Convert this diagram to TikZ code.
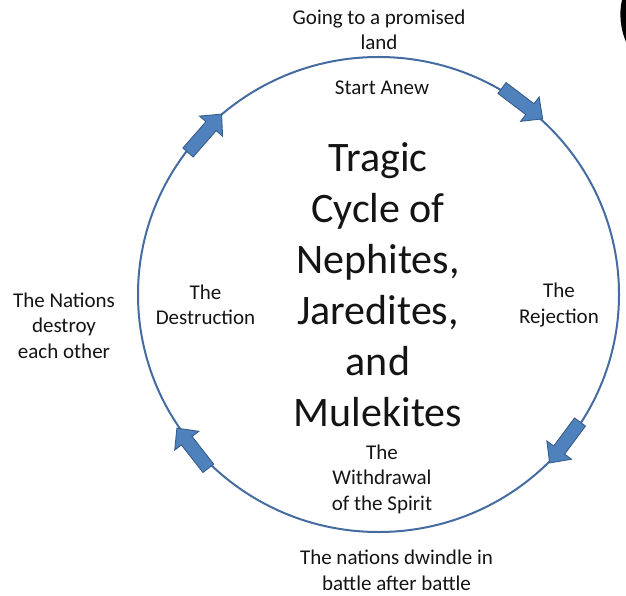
\documentclass[tikz,border=0pt]{standalone}
\usepackage{fontspec}
\setmainfont{Carlito}
\definecolor{ringblue}{RGB}{68,108,160}
\definecolor{arrowfill}{RGB}{79,129,189}
\definecolor{arrowline}{RGB}{56,93,138}
\definecolor{txt}{RGB}{20,20,20}
\tikzset{
  lbl/.style={inner sep=0pt, align=center, text=txt, font=\fontsize{21}{25.5}\selectfont},
  bigtitle/.style={inner sep=0pt, align=center, text=txt, font=\fontsize{42}{51}\selectfont},
  ring/.style={draw=ringblue, line width=2pt},
  blockarrow/.style={fill=arrowfill, draw=arrowline, line width=0.9pt, line join=miter}
}
\begin{document}
\begin{tikzpicture}[x=1pt,y=-1pt]
\useasboundingbox (0,0) rectangle (626,596);
% ring
\draw[ring] (378.5,294.5) ellipse [x radius=240.5, y radius=237.5];
% block arrows along the ring
\foreach \px/\py/\ang in {188/152.5/48.8, 502/88/-37.2, 580/422/-126.6, 208.3/468.3/128}{
  \draw[blockarrow, shift={(\px,\py)}, rotate=\ang]
    (0,-6.8) -- (35,-6.8) -- (35,-15.3) -- (51,0) -- (35,15.3) -- (35,6.8) -- (0,6.8) -- cycle;
}
% black fragment at top-right corner
\fill[black] (626,0) -- (622,0) .. controls (619,12) and (620,28) .. (626,42) -- cycle;
% texts
\node[lbl] (promised) at (379,30) {Going to a promised\\land};
\node[lbl] (anew) at (382,88) {Start Anew};
\node[bigtitle] (title) at (378,285) {Tragic\\Cycle of\\Nephites,\\Jaredites,\\and\\Mulekites};
\node[lbl] (destruction) at (205.5,305) {The\\Destruction};
\node[lbl] (nations) at (64,325.5) {The Nations\\destroy\\each other};
\node[lbl] (rejection) at (559,305) {The\\Rejection};
\node[lbl] (withdrawal) at (382,479) {The\\Withdrawal\\of the Spirit};
\node[lbl] (dwindle) at (396.5,570.5) {The nations dwindle in\\battle after battle};
\end{tikzpicture}
\end{document}
